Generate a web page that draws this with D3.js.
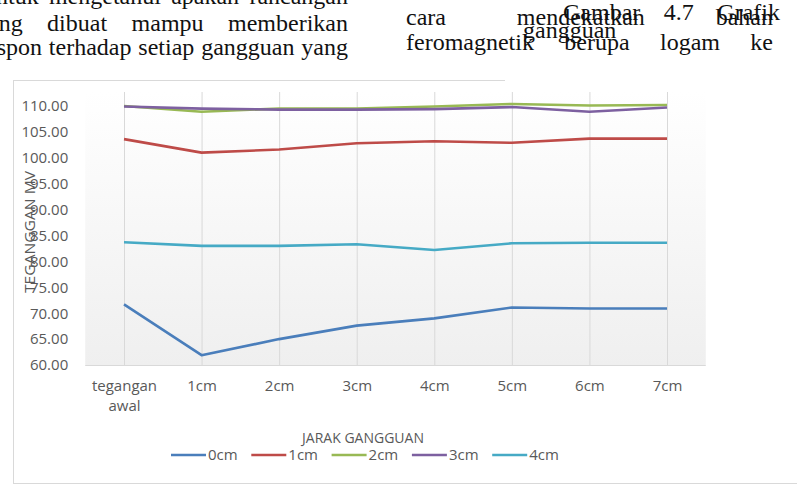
<!DOCTYPE html>
<html lang="id">
<head>
<meta charset="UTF-8">
<title>Grafik tegangan gangguan</title>
<script src="https://d3js.org/d3.v7.min.js"></script>
<style>
    body { margin: 0; background: #fff; }
    svg { display: block; }
    .page { font-family: 'Liberation Serif', 'Times New Roman', serif; font-size: 24px; fill: #111; }
    .tick text { font-family: 'Open Sans', sans-serif; font-size: 15px; fill: #595959; }
    .lbl { font-family: 'Open Sans', sans-serif; font-size: 14px; fill: #595959; }
</style>
</head>
<body>
<svg id="chart" width="797" height="487"></svg>
<script>
    // categories and series (tegangan, mV)
    const categories = ["tegangan awal", "1cm", "2cm", "3cm", "4cm", "5cm", "6cm", "7cm"];
    const seriesNames = ["0cm", "1cm", "2cm", "3cm", "4cm"];
    const s0cm = [71.7, 61.9, 65.0, 67.6, 69.0, 71.1, 70.9, 70.9];
    const s1cm = [103.6, 101.0, 101.6, 102.8, 103.2, 102.9, 103.7, 103.7];
    const s2cm = [110.0, 108.9, 109.5, 109.5, 109.9, 110.4, 110.1, 110.2];
    const s3cm = [109.9, 109.5, 109.3, 109.3, 109.4, 109.8, 108.9, 109.7];
    const s4cm = [83.7, 83.0, 83.0, 83.3, 82.2, 83.5, 83.6, 83.6];
    const colors = ["#4a7ebb", "#be4b48", "#98b954", "#7d60a0", "#46aac5"];
    const yTicks = [60, 65, 70, 75, 80, 85, 90, 95, 100, 105, 110];

    // surrounding document text (scanned page)
    const leftLines = [
        { words: ["untuk", "mengetahui", "apakah", "rancangan"], x0: -16, x1: 348, y: 4 },
        { words: ["yang", "dibuat", "mampu", "memberikan"], x0: -24, x1: 348, y: 31 },
        { words: ["respon", "terhadap", "setiap", "gangguan", "yang"], x0: -22, x1: 348, y: 55 }
    ];
    const rightLines = [
        { words: ["cara", "mendekatkan", "bahan"], x0: 406, x1: 773, y: 25 },
        { words: ["feromagnetik", "berupa", "logam", "ke"], x0: 406, x1: 773, y: 50 },
        { words: ["Gambar", "4.7", "Grafik"], x0: 563, x1: 780, y: 20 },
        { words: ["gangguan"], x0: 523, x1: 597, y: 38 }
    ];

    const data = [s0cm, s1cm, s2cm, s3cm, s4cm];
    const svg = d3.select("#chart");

    // chart frame
    svg.append("line").attr("x1", 13).attr("x2", 505).attr("y1", 80.5).attr("y2", 80.5).attr("stroke", "#d9d9d9");
    svg.append("line").attr("x1", 13.5).attr("x2", 13.5).attr("y1", 80).attr("y2", 483).attr("stroke", "#d9d9d9");
    svg.append("line").attr("x1", 13).attr("x2", 797).attr("y1", 483.5).attr("y2", 483.5).attr("stroke", "#d9d9d9");

    const x = d3.scalePoint().domain(categories).range([124, 667]);
    const y = d3.scaleLinear().domain([60, 110]).range([365, 106]);
    const step = x.step();

    // plot area background
    const grad = svg.append("defs").append("linearGradient")
        .attr("id", "plotbg").attr("x1", 0).attr("y1", 0).attr("x2", 0).attr("y2", 1);
    grad.append("stop").attr("offset", "0%").attr("stop-color", "#ffffff");
    grad.append("stop").attr("offset", "100%").attr("stop-color", "#efefef");
    svg.append("rect")
        .attr("x", x.range()[0] - step / 2).attr("y", 92)
        .attr("width", x.range()[1] - x.range()[0] + step).attr("height", 365 - 92)
        .attr("fill", "url(#plotbg)");

    // vertical gridlines
    svg.append("g").selectAll("line").data(categories).join("line")
        .attr("x1", d => x(d) + 0.5).attr("x2", d => x(d) + 0.5)
        .attr("y1", 92).attr("y2", 365)
        .attr("stroke", "#d9d9d9");
    svg.append("line")
        .attr("x1", x.range()[0] - step / 2).attr("x2", x.range()[1] + step / 2)
        .attr("y1", 365.5).attr("y2", 365.5).attr("stroke", "#d9d9d9");

    // y axis
    const yAxis = svg.append("g")
        .attr("transform", `translate(${x.range()[0] - step / 2},0)`)
        .call(d3.axisLeft(y).tickValues(yTicks).tickFormat(d3.format(".2f")).tickSize(0).tickPadding(17));
    yAxis.select(".domain").remove();

    // x axis
    const xAxis = svg.append("g")
        .attr("transform", "translate(0,365)")
        .call(d3.axisBottom(x).tickSize(0).tickPadding(15));
    xAxis.select(".domain").remove();
    xAxis.selectAll(".tick text").each(function(d) {
        const t = d3.select(this);
        const parts = d.split(" ");
        t.text(null);
        parts.forEach((p, i) => {
            t.append("tspan").attr("x", 0).attr("dy", i === 0 ? "0.71em" : "1.35em").text(p);
        });
    });

    // series lines
    const line = d3.line().x((d, i) => x(categories[i])).y(d => y(d));
    svg.append("g").selectAll("path").data(data).join("path")
        .attr("d", line)
        .attr("fill", "none")
        .attr("stroke", (d, i) => colors[i])
        .attr("stroke-width", 2.6)
        .attr("stroke-linejoin", "round");

    // axis titles
    svg.append("text").attr("class", "lbl")
        .attr("transform", "translate(35,232) rotate(-90)")
        .attr("text-anchor", "middle")
        .attr("textLength", 122).attr("lengthAdjust", "spacingAndGlyphs")
        .style("font-size", "15px")
        .text("TEGANGGAN MV");
    svg.append("text").attr("class", "lbl")
        .attr("x", 363).attr("y", 443)
        .attr("text-anchor", "middle")
        .text("JARAK GANGGUAN");

    // legend
    const legend = svg.append("g").selectAll("g").data(seriesNames).join("g")
        .attr("transform", (d, i) => `translate(${171 + i * 80.3},455)`);
    legend.append("line").attr("x1", 0).attr("x2", 35).attr("y1", 0).attr("y2", 0)
        .attr("stroke", (d, i) => colors[i]).attr("stroke-width", 2.6);
    legend.append("text").attr("class", "lbl")
        .attr("x", 37).attr("y", 5).style("font-size", "15px").text(d => d);

    // justified page text, word by word
    function drawLine(ln) {
        const g = svg.append("g").attr("class", "page");
        const nodes = ln.words.map(w => g.append("text").attr("y", ln.y).text(w));
        const widths = nodes.map(n => n.node().getComputedTextLength());
        const total = d3.sum(widths);
        const gap = ln.words.length > 1 ? (ln.x1 - ln.x0 - total) / (ln.words.length - 1) : 0;
        let cx = ln.x0;
        nodes.forEach((n, i) => { n.attr("x", cx); cx += widths[i] + gap; });
    }
    leftLines.forEach(drawLine);
    rightLines.forEach(drawLine);
</script>
</body>
</html>
